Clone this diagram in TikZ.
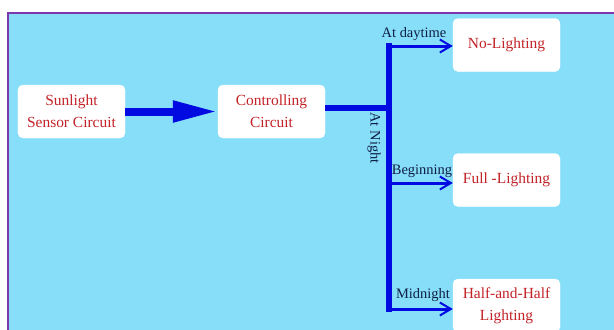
\documentclass[tikz,border=0pt]{standalone}
\usepackage{fontspec}
\setmainfont{Liberation Serif}
\usetikzlibrary{arrows.meta}
\definecolor{bg}{RGB}{134,222,248}
\definecolor{frame}{RGB}{125,55,175}
\definecolor{boxtxt}{RGB}{195,35,40}
\definecolor{lbl}{RGB}{15,30,70}
\definecolor{wire}{RGB}{0,10,225}
\tikzset{
  blk/.style={draw=white, fill=white, rounded corners=5bp, minimum width=107bp, minimum height=53bp,
    text=boxtxt, font=\fontsize{15.5}{22}\selectfont, align=center, inner sep=0pt},
  lab/.style={text=lbl, font=\fontsize{14.5}{16}\selectfont, inner sep=0pt},
  thick wire/.style={draw=wire, line width=6bp},
  branch/.style={draw=wire, line width=3bp, -{Straight Barb[length=11bp,width=13bp,line width=2bp]}}
}
\begin{document}
\begin{tikzpicture}[x=1bp,y=-1bp]
\useasboundingbox (0,0) rectangle (614,329);
\begin{scope}
\clip (0,0) rectangle (614,329);
\draw[fill=bg, draw=frame, line width=2bp] (8,13) rectangle (625,340);
\node[blk] (sun) at (71.5,111.5) {Sunlight\\Sensor Circuit};
\node[blk] (ctl) at (271.5,111.5) {Controlling\\Circuit};
\node[blk] (no) at (506.5,45) {No-Lighting};
\node[blk] (full) at (506.5,180) {Full -Lighting};
\node[blk] (half) at (506.5,305.5) {Half-and-Half\\Lighting};
\coordinate (j) at (389,108);
\coordinate (top) at (389,46);
\coordinate (mid) at (389,183);
\coordinate (bot) at (389,309);
\draw[draw=wire, line width=8bp, -{Triangle[length=45bp,width=20bp]}] (sun.east) -- (ctl.west);
\draw[thick wire] (ctl.east |- j) -- (j);
\draw[thick wire, line cap=rect] (top) -- (bot);
\draw[branch] ([xshift=-2bp]top) -- (no.west |- top);
\draw[branch] ([xshift=-2bp]mid) -- (full.west |- mid);
\draw[branch] ([xshift=-2bp]bot) -- (half.west |- bot);
\node[lab] (day) at (414,34) {At daytime};
\node[lab, rotate=-90] (night) at (374,138) {At Night};
\node[lab] (beg) at (422,171) {Beginning};
\node[lab] (mn) at (423,295) {Midnight};
\end{scope}
\end{tikzpicture}
\end{document}
